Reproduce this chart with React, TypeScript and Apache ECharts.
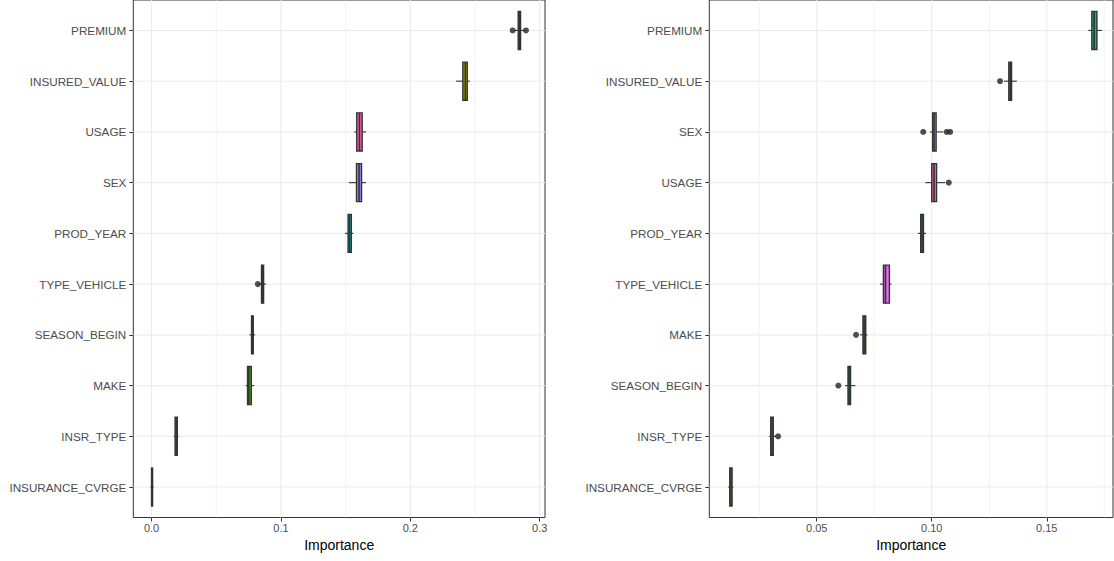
import React, { useEffect, useRef } from "react";
import * as echarts from "echarts";

// ---------- DATA ----------
const leftCategories = [
  "PREMIUM",
  "INSURED_VALUE",
  "USAGE",
  "SEX",
  "PROD_YEAR",
  "TYPE_VEHICLE",
  "SEASON_BEGIN",
  "MAKE",
  "INSR_TYPE",
  "INSURANCE_CVRGE",
];
// [whisker low, Q1, median, Q3, whisker high]
const leftStats = [
  [0.2805, 0.2834, 0.2842, 0.2852, 0.288],
  [0.2353, 0.2406, 0.2425, 0.244, 0.2461],
  [0.1567, 0.1586, 0.1607, 0.1628, 0.1658],
  [0.1526, 0.1584, 0.1604, 0.1623, 0.1658],
  [0.1495, 0.1519, 0.153, 0.1544, 0.156],
  [0.0831, 0.085, 0.0858, 0.0866, 0.0885],
  [0.0757, 0.0773, 0.0779, 0.0786, 0.08],
  [0.0728, 0.0742, 0.0752, 0.0771, 0.0794],
  [0.0172, 0.0182, 0.019, 0.0199, 0.0208],
  [-0.0008, 0.0, 0.0004, 0.0008, 0.0016],
];
const leftOutliers: [string, number][] = [
  ["PREMIUM", 0.2791],
  ["PREMIUM", 0.2894],
  ["TYPE_VEHICLE", 0.0821],
];
const leftTicks = [0, 0.1, 0.2, 0.3];
const leftTickLabels = ["0.0", "0.1", "0.2", "0.3"];
const leftMinorTicks = [0.05, 0.15, 0.25];

const rightCategories = [
  "PREMIUM",
  "INSURED_VALUE",
  "SEX",
  "USAGE",
  "PROD_YEAR",
  "TYPE_VEHICLE",
  "MAKE",
  "SEASON_BEGIN",
  "INSR_TYPE",
  "INSURANCE_CVRGE",
];
const rightStats = [
  [0.1681, 0.1696, 0.1706, 0.1718, 0.174],
  [0.1314, 0.1335, 0.1341, 0.1347, 0.137],
  [0.0993, 0.1004, 0.101, 0.1019, 0.105],
  [0.0972, 0.1, 0.101, 0.1021, 0.1058],
  [0.094, 0.0952, 0.0958, 0.0964, 0.0975],
  [0.0775, 0.079, 0.0799, 0.0816, 0.0825],
  [0.0688, 0.0701, 0.0706, 0.0713, 0.072],
  [0.0623, 0.0636, 0.0641, 0.0647, 0.0668],
  [0.0293, 0.03, 0.0306, 0.0311, 0.0323],
  [0.0115, 0.0122, 0.0127, 0.0132, 0.0138],
];
const rightOutliers: [string, number][] = [
  ["INSURED_VALUE", 0.1297],
  ["SEX", 0.0963],
  ["SEX", 0.1065],
  ["SEX", 0.108],
  ["USAGE", 0.1074],
  ["MAKE", 0.0671],
  ["SEASON_BEGIN", 0.0594],
  ["INSR_TYPE", 0.0332],
];
const rightTicks = [0.05, 0.1, 0.15];
const rightTickLabels = ["0.05", "0.10", "0.15"];
const rightMinorTicks = [0.025, 0.075, 0.125, 0.175];

const varColors: Record<string, string> = {
  INSR_TYPE: "#F8766D",
  INSURANCE_CVRGE: "#D89000",
  INSURED_VALUE: "#A3A500",
  MAKE: "#39B600",
  PREMIUM: "#00BF7D",
  PROD_YEAR: "#00BFC4",
  SEASON_BEGIN: "#00B0F6",
  SEX: "#9590FF",
  TYPE_VEHICLE: "#E76BF3",
  USAGE: "#FF62BC",
};

const FONT = "'Liberation Sans', Arial, Helvetica, sans-serif";
const catPositions = [1, 2, 3, 4, 5, 6, 7, 8, 9, 10];

function tickLabel(v: number, ticks: number[], labels: string[]) {
  for (let i = 0; i < ticks.length; i++) {
    if (Math.abs(ticks[i] - v) < 1e-6) return labels[i];
  }
  return "";
}

function buildPanel(
  idx: number,
  cats: string[],
  stats: number[][],
  outliers: [string, number][],
  ticks: number[],
  tickLabels: string[],
  minor: number[],
  xmin: number,
  xmax: number
) {
  const xAxis = {
    gridIndex: idx,
    type: "value",
    min: xmin,
    max: xmax,
    splitLine: { show: false },
    axisLine: { show: false, onZero: false },
    axisTick: {
      show: true,
      customValues: ticks,
      length: 4,
      lineStyle: { color: "#333333", width: 1 },
    },
    axisLabel: {
      customValues: ticks,
      formatter: (v: number) => tickLabel(v, ticks, tickLabels),
      color: "#4D4D4D",
      fontSize: 11,
      fontFamily: FONT,
      margin: 5,
    },
    name: "Importance",
    nameLocation: "middle",
    nameGap: 18,
    nameTextStyle: { color: "#000000", fontSize: 14, fontFamily: FONT },
  };
  const yAxis = {
    gridIndex: idx,
    type: "value",
    inverse: true,
    min: 0.4,
    max: 10.6,
    splitLine: { show: false },
    axisLine: { show: false, onZero: false },
    axisTick: {
      show: true,
      customValues: catPositions,
      length: 4,
      lineStyle: { color: "#333333", width: 1 },
    },
    axisLabel: {
      customValues: catPositions,
      formatter: (v: number) => cats[Math.round(v) - 1] ?? "",
      color: "#4D4D4D",
      fontSize: 11.7,
      fontFamily: FONT,
      margin: 7,
    },
  };

  const vLines = [
    ...ticks.map((t) => [t, 1.1]),
    ...minor.map((t) => [t, 0.6]),
  ];

  const series: any[] = [
    {
      type: "custom",
      xAxisIndex: idx,
      yAxisIndex: idx,
      silent: true,
      z: 0,
      data: vLines,
      encode: { x: 0 },
      renderItem: (params: any, api: any) => {
        const cs = params.coordSys;
        const p = api.coord([api.value(0), 1]);
        return {
          type: "line",
          shape: { x1: p[0], y1: cs.y, x2: p[0], y2: cs.y + cs.height },
          style: { stroke: "#EBEBEB", lineWidth: api.value(1) },
        };
      },
    },
    {
      type: "custom",
      xAxisIndex: idx,
      yAxisIndex: idx,
      silent: true,
      z: 0,
      data: catPositions.map((c) => [c]),
      encode: { y: 0 },
      renderItem: (params: any, api: any) => {
        const cs = params.coordSys;
        const p = api.coord([0.1, api.value(0)]);
        return {
          type: "line",
          shape: { x1: cs.x, y1: p[1], x2: cs.x + cs.width, y2: p[1] },
          style: { stroke: "#EBEBEB", lineWidth: 1.1 },
        };
      },
    },
    {
      type: "custom",
      xAxisIndex: idx,
      yAxisIndex: idx,
      z: 2,
      data: stats.map((s, i) => [i + 1, ...s]),
      encode: { x: [1, 2, 3, 4, 5], y: 0 },
      renderItem: (params: any, api: any) => {
        const y = api.value(0);
        const name = cats[y - 1];
        const pMin = api.coord([api.value(1), y]);
        const pQ1 = api.coord([api.value(2), y]);
        const pMed = api.coord([api.value(3), y]);
        const pQ3 = api.coord([api.value(4), y]);
        const pMax = api.coord([api.value(5), y]);
        const h = api.size([0, 1])[1] * 0.75;
        const cy = pQ1[1];
        return {
          type: "group",
          children: [
            {
              type: "line",
              shape: { x1: pMin[0], y1: cy, x2: pQ1[0], y2: cy },
              style: { stroke: "#333333", lineWidth: 1.1 },
            },
            {
              type: "line",
              shape: { x1: pQ3[0], y1: cy, x2: pMax[0], y2: cy },
              style: { stroke: "#333333", lineWidth: 1.1 },
            },
            {
              type: "rect",
              shape: { x: pQ1[0], y: cy - h / 2, width: pQ3[0] - pQ1[0], height: h },
              style: { fill: varColors[name], stroke: "#333333", lineWidth: 1.4 },
            },
            {
              type: "line",
              shape: { x1: pMed[0], y1: cy - h / 2, x2: pMed[0], y2: cy + h / 2 },
              style: { stroke: "#333333", lineWidth: 1.6 },
            },
          ],
        };
      },
    },
    {
      type: "scatter",
      xAxisIndex: idx,
      yAxisIndex: idx,
      z: 3,
      symbol: "circle",
      symbolSize: 6,
      itemStyle: { color: "#222222" },
      data: outliers.map(([n, v]) => [v, cats.indexOf(n) + 1]),
    },
  ];
  return { xAxis, yAxis, series };
}

export default function App() {
  const ref = useRef<HTMLDivElement>(null);
  useEffect(() => {
    if (!ref.current) return;
    const chart = echarts.init(ref.current, undefined, { renderer: "svg" });
    const left = buildPanel(
      0,
      leftCategories,
      leftStats,
      leftOutliers,
      leftTicks,
      leftTickLabels,
      leftMinorTicks,
      -0.0141,
      0.3041
    );
    const right = buildPanel(
      1,
      rightCategories,
      rightStats,
      rightOutliers,
      rightTicks,
      rightTickLabels,
      rightMinorTicks,
      0.0033,
      0.1788
    );
    chart.setOption({
      animation: false,
      backgroundColor: "#FFFFFF",
      textStyle: { fontFamily: FONT },
      grid: [
        {
          left: 133.3,
          top: -0.5,
          width: 411.7,
          height: 518,
          show: true,
          borderColor: "#333333",
          borderWidth: 1,
          backgroundColor: "transparent",
        },
        {
          left: 709.3,
          top: -0.5,
          width: 403.7,
          height: 518,
          show: true,
          borderColor: "#333333",
          borderWidth: 1,
          backgroundColor: "transparent",
        },
      ],
      xAxis: [left.xAxis, right.xAxis],
      yAxis: [left.yAxis, right.yAxis],
      series: [...left.series, ...right.series],
    });
    return () => chart.dispose();
  }, []);
  return (
    <div
      ref={ref}
      style={{ position: "absolute", left: 0, top: 0, width: 1114, height: 561 }}
    />
  );
}
